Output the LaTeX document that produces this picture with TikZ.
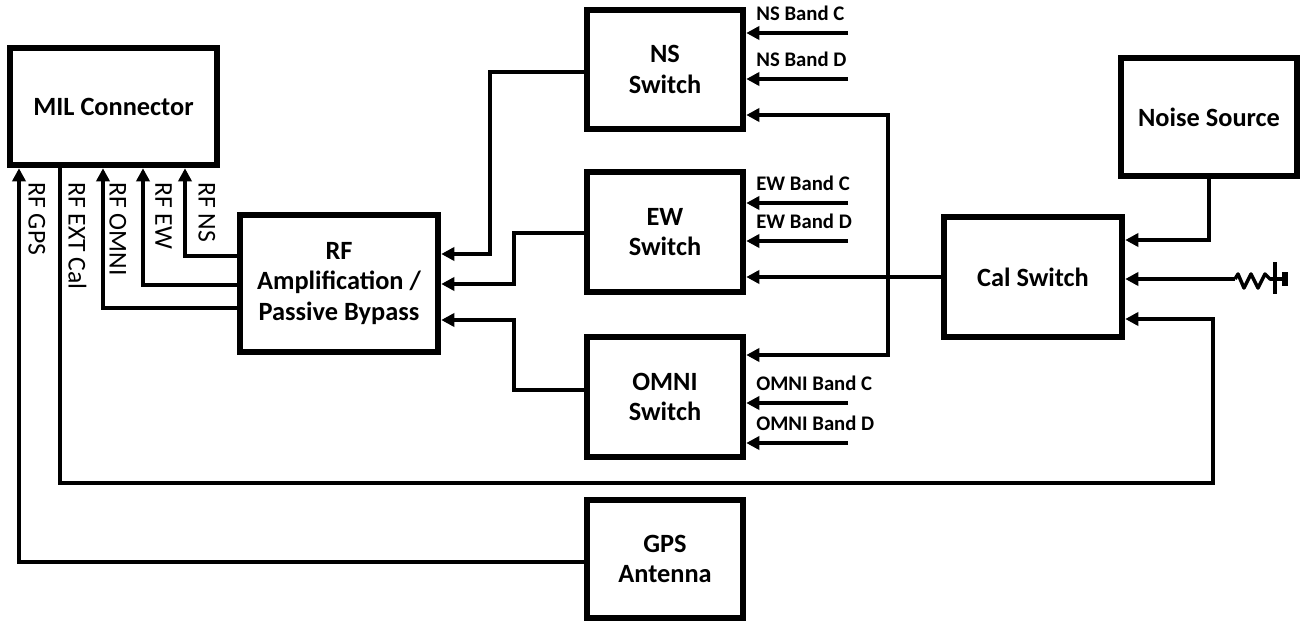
\documentclass[tikz,border=0pt]{standalone}
\usepackage{fontspec}
\setmainfont{Carlito}
\usetikzlibrary{arrows.meta}

\begin{document}
\begin{tikzpicture}[x=0.02cm, y=-0.02cm,
		box/.style={draw, line width=3.7pt, align=center, inner sep=0pt, font=\fontsize{15}{17.5}\selectfont\bfseries},
		conn/.style={line width=2.5pt, -{Triangle[length=7.5pt,width=7.5pt]}},
		bandlbl/.style={anchor=west, inner sep=0pt, font=\fontsize{11.8}{14}\selectfont\bfseries},
		sidelbl/.style={rotate=-90, anchor=south west, inner sep=0pt, font=\fontsize{14.6}{17}\selectfont}]

			\useasboundingbox (0,0) rectangle (1303,622);

			% Blocks
			\node[box, minimum width=4.14cm, minimum height=2.34cm] (mil) at (113.5,106.5) {MIL Connector};
			\node[box, minimum width=3.96cm, minimum height=2.74cm] (rf) at (339,283.5) {RF\\Amplification /\\Passive Bypass};
			\node[box, minimum width=3.12cm, minimum height=2.38cm] (ns) at (665,69.5) {NS\\Switch};
			\node[box, minimum width=3.12cm, minimum height=2.40cm] (ew) at (665,232) {EW\\Switch};
			\node[box, minimum width=3.12cm, minimum height=2.40cm] (omni) at (665,397) {OMNI\\Switch};
			\node[box, minimum width=3.12cm, minimum height=2.36cm] (gps) at (665,559) {GPS\\Antenna};
			\node[box, minimum width=3.56cm, minimum height=2.40cm] (cal) at (1033,277) {Cal Switch};
			\node[box, minimum width=3.52cm, minimum height=2.36cm] (noise) at (1209,117) {Noise Source};

			% Switches into RF amplification
			\draw[conn] (ns.west |- 0,72) -| (490,254) -- (rf.east |- 0,254);
			\draw[conn] (ew.west |- 0,233) -| (514,284) -- (rf.east |- 0,284);
			\draw[conn] (omni.west |- 0,390) -| (514,320) -- (rf.east |- 0,320);

			% Band inputs
			\foreach \sw/\lbl/\ya/\yb in {ns/NS/33/79, ew/EW/203/241, omni/OMNI/403/443}{
				\coordinate (\sw inc) at (848,\ya);
				\coordinate (\sw ind) at (848,\yb);
				\draw[conn] (\sw inc) -- (\sw.east |- \sw inc);
				\draw[conn] (\sw ind) -- (\sw.east |- \sw ind);
				\node[bandlbl] (\sw lblc) at (756,\ya-20) {\lbl\ Band C};
				\node[bandlbl] (\sw lbld) at (756,\yb-20) {\lbl\ Band D};
			}

			% Cal switch out to the three switches
			\coordinate (calsplit) at (888,277);
			\draw[conn] (cal.west) -- (ew.east |- cal.west);
			\draw[conn] (calsplit) |- (ns.east |- 0,115);
			\draw[conn] (calsplit) |- (omni.east |- 0,355);

			% Cal switch inputs
			\coordinate (gnd) at (1235,279);
			\draw[conn] (noise.south) |- (cal.east |- 0,240);
			\draw[conn] (gnd) -- (cal.east |- gnd);
			\draw[line width=2pt, line join=round] (gnd) -- (1238,274) -- (1244,288) -- (1251,274) -- (1258,288) -- (1265,274) -- (1270,279) -- (1282,279);
			\draw[line width=2.2pt] (1275,262) -- (1275,294);
			\fill (1282,272) rectangle (1288,286);

			% MIL connector lines
			\draw[conn] (mil.south -| 60,0) -- (60,483) -| (1213,319) -- (cal.east |- 0,319);
			\draw[conn] (gps.west |- 0,562) -| (mil.south -| 19,0);
			\foreach \yy/\xx in {256/185, 285/143, 308/103}
				\draw[conn] (rf.west |- 0,\yy) -| (mil.south -| \xx,0);

			% Labels
			\node[sidelbl] (lblgps) at (28,182) {RF GPS};
			\node[sidelbl] (lblcal) at (68,182) {RF EXT Cal};
			\node[sidelbl] (lblomni) at (109,182) {RF OMNI};
			\node[sidelbl] (lblew) at (155,182) {RF EW};
			\node[sidelbl] (lblns) at (198,182) {RF NS};
		\end{tikzpicture}
\end{document}
